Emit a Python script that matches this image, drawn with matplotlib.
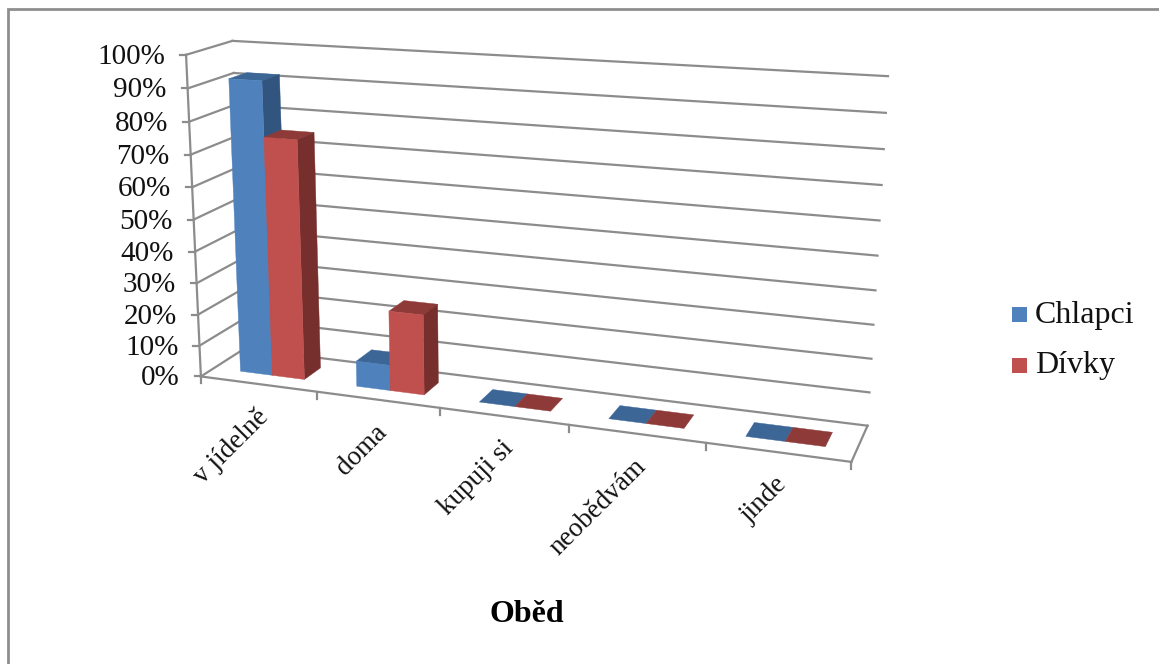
import matplotlib
matplotlib.use("Agg")
import matplotlib.pyplot as plt
import numpy as np
from matplotlib.patches import Polygon, Rectangle

plt.rcParams['font.family'] = ['Liberation Serif', 'DejaVu Serif']

categories = ["v jídelně", "doma", "kupuji si", "neobědvám", "jinde"]
chlapci = [92, 8, 0, 0, 0]
divky = [75, 25, 0, 0, 0]
y_ticks = [0, 10, 20, 30, 40, 50, 60, 70, 80, 90, 100]
series_names = ["Chlapci", "Dívky"]
chart_title = "Oběd"

# front / top / side shades for the two series
blue = ("#4F81BD", "#3C6696", "#31557F")
red = ("#C0504D", "#8E3A38", "#772F2D")
grid_col = "#8C8C8C"
line_w = 1.6

# box corners (category, depth, percent) and where they land on the canvas
box_3d = np.array([
    [0, 0, 0], [1, 0, 0], [2, 0, 0], [3, 0, 0], [4, 0, 0], [5, 0, 0],
    [0, 1, 0], [5, 1, 0], [0, 0, 100], [0, 0, 50], [0, 1, 100], [5, 1, 100], [5, 1, 50],
], dtype=float)
box_px = np.array([
    [203, 377], [317, 393], [439, 407], [569, 427], [706, 443], [851, 461],
    [243, 348], [868, 425], [185, 54], [194, 218], [233, 42], [888, 77], [878, 255],
], dtype=float)


def fit_camera(pts, px):
    rows, rhs = [], []
    for (a, b, c), (u, v) in zip(pts, px):
        rows.append([a, b, c, 1, 0, 0, 0, 0, -u * a, -u * b, -u * c])
        rhs.append(u)
        rows.append([0, 0, 0, 0, a, b, c, 1, -v * a, -v * b, -v * c])
        rhs.append(v)
    sol = np.linalg.lstsq(np.array(rows), np.array(rhs), rcond=None)[0]
    return np.append(sol, 1).reshape(3, 4)


cam = fit_camera(box_3d, box_px)


def proj(cat, depth, val):
    p = cam @ np.array([cat, depth, val, 1.0])
    return p[0] / p[2], p[1] / p[2]


fig = plt.figure(figsize=(11.59, 6.64), dpi=100)
ax = fig.add_axes([0, 0, 1, 1])
ax.set_xlim(0, 1159)
ax.set_ylim(664, 0)
ax.axis("off")

# outer chart frame
ax.plot([8, 8, 1159], [664, 9, 9], color="#8E8E8E", lw=2.0, solid_joinstyle="miter")


def seg(a, b, **kw):
    p, q = proj(*a), proj(*b)
    ax.plot([p[0], q[0]], [p[1], q[1]], color=grid_col, lw=line_w, **kw)


n = len(categories)
for t in y_ticks:
    seg((0, 0, t), (0, 1, t))
    seg((0, 1, t), (n, 1, t))
    x0, y0 = proj(0, 0, t)
    ax.plot([x0 - 6, x0], [y0, y0], color=grid_col, lw=line_w)
    ax.text(x0 - 21, y0 + 2, f"{t}%", ha="right", va="center", fontsize=21, color="#111111")

seg((0, 0, 0), (0, 0, 100))
seg((0, 0, 0), (n, 0, 0))
seg((n, 0, 0), (n, 1, 0))

for i in range(n + 1):
    x0, y0 = proj(i, 0, 0)
    ax.plot([x0, x0], [y0, y0 + 7], color=grid_col, lw=line_w)

bar_start = 0.232
bar_w = 0.278
d_front = 0.30
d_back = 0.70


def draw_bar(cat_left, val, shades):
    cat_right = cat_left + bar_w
    front, top, side = shades
    corners_top = [proj(cat_left, d_front, val), proj(cat_right, d_front, val),
                   proj(cat_right, d_back, val), proj(cat_left, d_back, val)]
    ax.add_patch(Polygon(corners_top, closed=True, fc=top, ec=top, lw=0.3, zorder=3))
    if val > 0:
        corners_side = [proj(cat_right, d_front, 0), proj(cat_right, d_back, 0),
                        proj(cat_right, d_back, val), proj(cat_right, d_front, val)]
        ax.add_patch(Polygon(corners_side, closed=True, fc=side, ec=side, lw=0.3, zorder=3))
        corners_front = [proj(cat_left, d_front, 0), proj(cat_right, d_front, 0),
                         proj(cat_right, d_front, val), proj(cat_left, d_front, val)]
        ax.add_patch(Polygon(corners_front, closed=True, fc=front, ec=front, lw=0.3, zorder=3))


for i in range(n):
    draw_bar(i + bar_start, chlapci[i], blue)
    draw_bar(i + bar_start + bar_w, divky[i], red)

# category labels hang off the axis at 45 degrees
for i, name in enumerate(categories):
    x0, y0 = proj(i + 0.5, 0, 0)
    ax.text(x0 - 3, y0 + 20, name, rotation=45, rotation_mode="anchor", ha="right", va="top",
            fontsize=19.5, color="#111111")

ax.text(527, 614, chart_title, ha="center", va="center", fontsize=23, fontweight="bold", color="black")

# legend
leg_y = [315, 366]
for name, shades, y in zip(series_names, (blue, red), leg_y):
    ax.add_patch(Rectangle((1012, y - 8.5), 15, 15, fc=shades[0], ec="none"))
    ax.text(1035, y, name, ha="left", va="center", fontsize=23, color="#111111")

fig.savefig("out.png", dpi=100)
